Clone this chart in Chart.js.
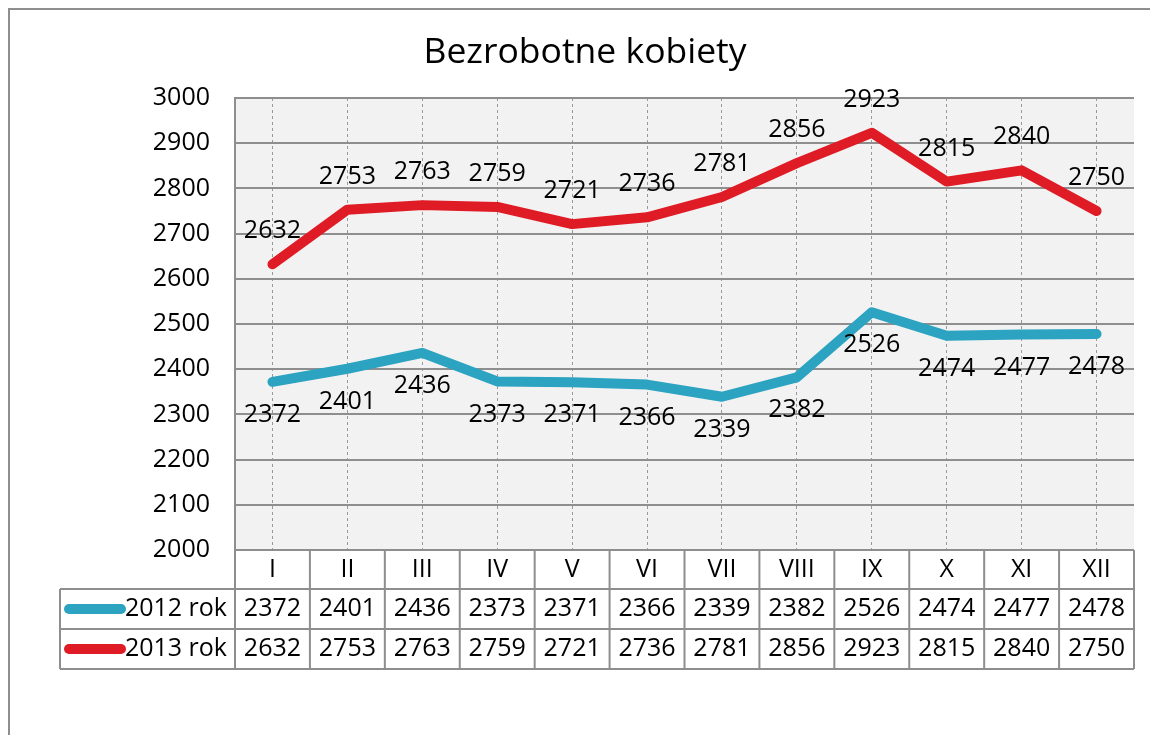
<!DOCTYPE html>
<html>
<head>
<meta charset="utf-8">
<script src="https://cdn.jsdelivr.net/npm/chart.js@4"></script>
<style>
  body { margin: 0; background: #fff; }
</style>
</head>
<body>
<canvas id="myChart" width="1150" height="735"></canvas>
<script>
// months in roman numerals
const months = ['I', 'II', 'III', 'IV', 'V', 'VI', 'VII', 'VIII', 'IX', 'X', 'XI', 'XII'];
const rok2012 = [2372, 2401, 2436, 2373, 2371, 2366, 2339, 2382, 2526, 2474, 2477, 2478];
const rok2013 = [2632, 2753, 2763, 2759, 2721, 2736, 2781, 2856, 2923, 2815, 2840, 2750];
const seriesNames = ['2012 rok', '2013 rok'];
const yTicks = [2000, 2100, 2200, 2300, 2400, 2500, 2600, 2700, 2800, 2900, 3000];

const FONT = "'Open Sans'";
const blue = '#2ba3c1';
const red = '#df1b25';
const lineGray = '#8e8e8e';

// background, outer frame, gray plot area
const backPlugin = {
  id: 'back',
  beforeDraw(chart) {
    const ctx = chart.ctx;
    const a = chart.chartArea;
    ctx.save();
    ctx.fillStyle = '#fff';
    ctx.fillRect(0, 0, chart.width, chart.height);
    ctx.strokeStyle = lineGray;
    ctx.lineWidth = 2;
    ctx.beginPath();
    ctx.moveTo(9, chart.height);
    ctx.lineTo(9, 9);
    ctx.lineTo(chart.width, 9);
    ctx.stroke();
    ctx.fillStyle = '#f2f2f2';
    ctx.fillRect(a.left, a.top, a.right - a.left, a.bottom - a.top);
    ctx.restore();
  }
};

// title, value labels and the data table under the plot
const extrasPlugin = {
  id: 'extras',
  afterDraw(chart) {
    const ctx = chart.ctx;
    const a = chart.chartArea;
    const x = chart.scales.x;
    ctx.save();

    ctx.fillStyle = '#000';
    ctx.font = '35.5px ' + FONT;
    ctx.textAlign = 'center';
    ctx.textBaseline = 'middle';
    ctx.fillText('Bezrobotne kobiety', 585, 53);

    // point labels: 2012 below, 2013 above
    ctx.font = '25px ' + FONT;
    chart.data.datasets.forEach(function (ds, di) {
      const meta = chart.getDatasetMeta(di);
      meta.data.forEach(function (pt, i) {
        const dy = di === 0 ? 33 : -33;
        ctx.fillText(String(ds.data[i]), pt.x, pt.y + dy);
      });
    });

    // table
    const rows = [a.bottom, a.bottom + 39, a.bottom + 79, a.bottom + 119];
    const step = x.getPixelForValue(1) - x.getPixelForValue(0);
    const tableLeft = 60;
    ctx.strokeStyle = lineGray;
    ctx.lineWidth = 2;
    ctx.beginPath();
    ctx.moveTo(a.left, rows[0]); ctx.lineTo(a.right, rows[0]);
    for (let r = 1; r < rows.length; r++) {
      ctx.moveTo(tableLeft, rows[r]); ctx.lineTo(a.right, rows[r]);
    }
    ctx.moveTo(tableLeft, rows[1]); ctx.lineTo(tableLeft, rows[3]);
    for (let i = 0; i <= months.length; i++) {
      const cx = x.getPixelForValue(i) - step / 2;
      ctx.moveTo(cx, rows[0]); ctx.lineTo(cx, rows[3]);
    }
    ctx.stroke();

    ctx.fillStyle = '#000';
    ctx.textAlign = 'center';
    months.forEach(function (m, i) {
      const cx = x.getPixelForValue(i);
      ctx.fillText(m, cx, (rows[0] + rows[1]) / 2);
      ctx.fillText(String(rok2012[i]), cx, (rows[1] + rows[2]) / 2);
      ctx.fillText(String(rok2013[i]), cx, (rows[2] + rows[3]) / 2);
    });

    // legend keys inside the table
    const colors = [blue, red];
    for (let s = 0; s < 2; s++) {
      const cy = (rows[s + 1] + rows[s + 2]) / 2;
      ctx.strokeStyle = colors[s];
      ctx.lineWidth = 10;
      ctx.lineCap = 'round';
      ctx.beginPath();
      ctx.moveTo(69, cy);
      ctx.lineTo(121, cy);
      ctx.stroke();
      ctx.fillStyle = '#000';
      ctx.textAlign = 'right';
      ctx.fillText(seriesNames[s], a.left - 8, cy);
    }
    ctx.restore();
  }
};

const ctx = document.getElementById('myChart').getContext('2d');
const chart = new Chart(ctx, {
  type: 'line',
  data: {
    labels: months,
    datasets: [{
      label: seriesNames[0],
      data: rok2012,
      borderColor: blue,
      borderWidth: 10,
      pointRadius: 0,
      borderCapStyle: 'round',
      borderJoinStyle: 'round'
    }, {
      label: seriesNames[1],
      data: rok2013,
      borderColor: red,
      borderWidth: 10,
      pointRadius: 0,
      borderCapStyle: 'round',
      borderJoinStyle: 'round'
    }]
  },
  options: {
    responsive: false,
    animation: false,
    layout: { padding: { top: 98, right: 16, bottom: 185, left: 0 } },
    plugins: {
      legend: { display: false },
      title: { display: false },
      tooltip: { enabled: false }
    },
    scales: {
      x: {
        offset: true,
        ticks: { display: false },
        grid: {
          offset: false,
          drawTicks: false,
          color: '#999',
          lineWidth: 1
        },
        border: { display: false, dash: [3, 3] },
        afterFit(scale) { scale.height = 0; }
      },
      y: {
        min: 2000,
        max: 3000,
        afterBuildTicks(scale) { scale.ticks = yTicks.map(v => ({ value: v })); },
        ticks: {
          padding: 25,
          color: '#000',
          font: { family: FONT, size: 25 },
          callback: v => String(v)
        },
        grid: { color: lineGray, lineWidth: 2, drawTicks: false },
        border: { color: lineGray, width: 2 },
        afterFit(scale) { scale.width = 235; }
      }
    }
  },
  plugins: [backPlugin, extrasPlugin]
});
</script>
</body>
</html>
